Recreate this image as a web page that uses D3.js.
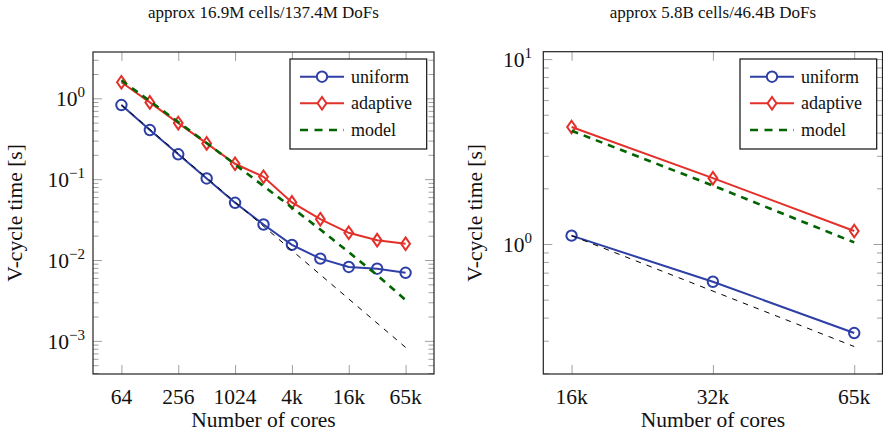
<!DOCTYPE html>
<html>
<head>
<meta charset="utf-8">
<script src="https://cdn.jsdelivr.net/npm/d3@7"></script>
<style>
  body { margin: 0; background: #fff; }
  svg { display: block; }
</style>
</head>
<body>
<svg id="chart" width="883" height="432"></svg>
<script>
// 左图：approx 16.9M cells
var coresLeft = [64, 128, 256, 512, 1024, 2048, 4096, 8192, 16384, 32768, 65536];
var uniformLeft = [0.826, 0.405, 0.203, 0.102, 0.051, 0.0275, 0.0154, 0.0104, 0.0082, 0.0078, 0.00695];
var adaptiveLeft = [1.58, 0.89, 0.494, 0.277, 0.155, 0.107, 0.0516, 0.032, 0.0217, 0.0176, 0.0159];
var modelLeft = [1.67, 0.926, 0.509, 0.280, 0.152, 0.0822, 0.0445, 0.0238, 0.0125, 0.0065, 0.0032];
var idealCoresLeft = [64, 65536];
var idealLeft = [0.826, 0.00083];
var xTicksLeft = [64, 256, 1024, 4096, 16384, 65536];
var xLabelsLeft = ["64", "256", "1024", "4k", "16k", "65k"];
var yExpLeft = [-3, -2, -1, 0];

// 右图：approx 5.8B cells
var coresRight = [16384, 32768, 65536];
var uniformRight = [1.11, 0.625, 0.330];
var adaptiveRight = [4.29, 2.27, 1.175];
var modelRight = [4.10, 2.07, 1.02];
var idealCoresRight = [16384, 65536];
var idealRight = [1.11, 0.279];
var xTicksRight = [16384, 32768, 65536];
var xLabelsRight = ["16k", "32k", "65k"];
var yExpRight = [0, 1];

var legendNames = ["uniform", "adaptive", "model"];

var BLUE = "#2e3fa6", RED = "#e3302a", GREEN = "#006400";
var FONT = "'Liberation Serif', 'DejaVu Serif', 'Times New Roman', serif";

var svg = d3.select("#chart").attr("font-family", FONT);

function minorTicks(lo, hi) {
  var out = [];
  for (var e = Math.floor(Math.log10(lo)); e <= Math.ceil(Math.log10(hi)); e++) {
    for (var m = 2; m <= 9; m++) {
      var v = m * Math.pow(10, e);
      if (v >= lo && v <= hi) out.push(v);
    }
  }
  return out;
}

function txt(sel, size) {
  return sel.attr("font-family", FONT).attr("font-size", size).attr("fill", "#111");
}

function drawPanel(cfg) {
  var g = svg.append("g");
  var x = d3.scaleLog().base(2).domain(cfg.xDomain).range([cfg.left, cfg.right]);
  var y = d3.scaleLog().domain(cfg.yDomain).range([cfg.bottom, cfg.top]);
  var majors = cfg.yExp.map(function (e) { return Math.pow(10, e); });
  var minors = minorTicks(cfg.yDomain[0], cfg.yDomain[1]);

  //刻度（四边朝内）
  function styleTicks(sel) {
    sel.select(".domain").remove();
    sel.selectAll(".tick line").attr("stroke", "#a0a0a0").attr("stroke-width", 1);
    sel.selectAll(".tick text").remove();
  }
  g.append("g").attr("transform", "translate(" + cfg.left + ",0)")
    .call(d3.axisLeft(y).tickValues(minors).tickSize(-5.5).tickFormat("")).call(styleTicks);
  g.append("g").attr("transform", "translate(" + cfg.right + ",0)")
    .call(d3.axisRight(y).tickValues(minors).tickSize(-5.5).tickFormat("")).call(styleTicks);
  g.append("g").attr("transform", "translate(" + cfg.left + ",0)")
    .call(d3.axisLeft(y).tickValues(majors).tickSize(-9).tickFormat("")).call(styleTicks);
  g.append("g").attr("transform", "translate(" + cfg.right + ",0)")
    .call(d3.axisRight(y).tickValues(majors).tickSize(-9).tickFormat("")).call(styleTicks);
  g.append("g").attr("transform", "translate(0," + cfg.bottom + ")")
    .call(d3.axisBottom(x).tickValues(cfg.xTicks).tickSize(-9).tickFormat("")).call(styleTicks);
  g.append("g").attr("transform", "translate(0," + cfg.top + ")")
    .call(d3.axisTop(x).tickValues(cfg.xTicks).tickSize(-9).tickFormat("")).call(styleTicks);

  //边框
  g.append("rect")
    .attr("x", cfg.left).attr("y", cfg.top)
    .attr("width", cfg.right - cfg.left).attr("height", cfg.bottom - cfg.top)
    .attr("fill", "none").attr("stroke", "#222").attr("stroke-width", 1.2);

  //x 标签
  g.selectAll(".xl").data(cfg.xTicks).enter().append("text")
    .attr("x", function (d) { return x(d); })
    .attr("y", cfg.bottom + 30)
    .attr("text-anchor", "middle")
    .call(txt, 21.5)
    .text(function (d, i) { return cfg.xLabels[i]; });

  //y 标签 10^n
  var yl = g.selectAll(".yl").data(cfg.yExp).enter().append("text")
    .attr("x", cfg.labelRight)
    .attr("y", function (d) { return y(Math.pow(10, d)) + 8; })
    .attr("text-anchor", "end")
    .call(txt, 21.5);
  yl.append("tspan").text("10");
  yl.append("tspan").attr("dy", -9).attr("font-size", 15)
    .text(function (d) { return d < 0 ? "\u2212" + (-d) : String(d); });

  //标题与轴名
  var cx = (cfg.left + cfg.right) / 2;
  g.append("text").attr("x", cx).attr("y", 18).attr("text-anchor", "middle")
    .call(txt, 17).text(cfg.title);
  g.append("text").attr("x", cx).attr("y", 426.5).attr("text-anchor", "middle")
    .call(txt, 21.5).text("Number of cores");
  g.append("text")
    .attr("transform", "translate(" + cfg.yTitleX + "," + ((cfg.top + cfg.bottom) / 2) + ") rotate(-90)")
    .attr("text-anchor", "middle")
    .call(txt, 21.5).text("V-cycle time [s]");

  //线条
  var line = d3.line()
    .x(function (d) { return x(d[0]); })
    .y(function (d) { return y(d[1]); });
  function zip(a, b) { return a.map(function (v, i) { return [v, b[i]]; }); }

  var clip = "clip-" + cfg.id;
  svg.append("clipPath").attr("id", clip).append("rect")
    .attr("x", cfg.left).attr("y", cfg.top)
    .attr("width", cfg.right - cfg.left).attr("height", cfg.bottom - cfg.top);
  var plot = g.append("g").attr("clip-path", "url(#" + clip + ")");

  var uni = zip(cfg.cores, cfg.uniform);
  plot.append("path").datum(uni).attr("d", line)
    .attr("fill", "none").attr("stroke", BLUE).attr("stroke-width", 2);
  plot.selectAll(".cm").data(uni).enter().append("circle")
    .attr("cx", function (d) { return x(d[0]); })
    .attr("cy", function (d) { return y(d[1]); })
    .attr("r", 5.2).attr("fill", "none").attr("stroke", BLUE).attr("stroke-width", 2);

  var ada = zip(cfg.cores, cfg.adaptive);
  plot.append("path").datum(ada).attr("d", line)
    .attr("fill", "none").attr("stroke", RED).attr("stroke-width", 2);
  plot.selectAll(".dm").data(ada).enter().append("path")
    .attr("transform", function (d) { return "translate(" + x(d[0]) + "," + y(d[1]) + ")"; })
    .attr("d", "M0,-6.3L4.4,0L0,6.3L-4.4,0Z")
    .attr("fill", "none").attr("stroke", RED).attr("stroke-width", 2);

  plot.append("path").datum(zip(cfg.cores, cfg.model)).attr("d", line)
    .attr("fill", "none").attr("stroke", GREEN).attr("stroke-width", 2.6)
    .attr("stroke-dasharray", "7,6");

  plot.append("path").datum(zip(cfg.idealCores, cfg.ideal)).attr("d", line)
    .attr("fill", "none").attr("stroke", "#000").attr("stroke-width", 1)
    .attr("stroke-dasharray", "5.5,6");

  //图例
  var lx = cfg.legendX, ly = 59;
  var lg = g.append("g");
  lg.append("rect").attr("x", lx).attr("y", ly).attr("width", 136.7).attr("height", 90)
    .attr("fill", "#fff").attr("stroke", "#111").attr("stroke-width", 1.2);
  var rows = [ly + 17.7, ly + 44.3, ly + 71];
  legendNames.forEach(function (name, i) {
    var ry = rows[i];
    if (i < 2) {
      var col = i === 0 ? BLUE : RED;
      lg.append("line").attr("x1", lx + 10).attr("x2", lx + 54).attr("y1", ry).attr("y2", ry)
        .attr("stroke", col).attr("stroke-width", 2);
      if (i === 0) {
        lg.append("circle").attr("cx", lx + 32).attr("cy", ry).attr("r", 5.2)
          .attr("fill", "#fff").attr("stroke", col).attr("stroke-width", 2);
      } else {
        lg.append("path").attr("transform", "translate(" + (lx + 32) + "," + ry + ")")
          .attr("d", "M0,-6.3L4.4,0L0,6.3L-4.4,0Z")
          .attr("fill", "#fff").attr("stroke", col).attr("stroke-width", 2);
      }
    } else {
      lg.append("line").attr("x1", lx + 10).attr("x2", lx + 54).attr("y1", ry).attr("y2", ry)
        .attr("stroke", GREEN).attr("stroke-width", 2.6).attr("stroke-dasharray", "8,6.5");
    }
    lg.append("text").attr("x", lx + 61).attr("y", ry + 6)
      .call(txt, 18).text(name);
  });
}

drawPanel({
  id: "l", left: 93, right: 434, top: 52, bottom: 374,
  xDomain: [32, 131072], yDomain: [Math.pow(10, -3.41), Math.pow(10, 0.573)],
  xTicks: xTicksLeft, xLabels: xLabelsLeft, yExp: yExpLeft,
  labelRight: 85, yTitleX: 22, legendX: 290,
  title: "approx 16.9M cells/137.4M DoFs",
  cores: coresLeft, uniform: uniformLeft, adaptive: adaptiveLeft, model: modelLeft,
  idealCores: idealCoresLeft, ideal: idealLeft
});

drawPanel({
  id: "r", left: 543.3, right: 882.5, top: 51.7, bottom: 374,
  xDomain: [Math.pow(2, 13.8), Math.pow(2, 16.2)], yDomain: [Math.pow(10, -0.703), Math.pow(10, 1.04)],
  xTicks: xTicksRight, xLabels: xLabelsRight, yExp: yExpRight,
  labelRight: 532, yTitleX: 482, legendX: 740,
  title: "approx 5.8B cells/46.4B DoFs",
  cores: coresRight, uniform: uniformRight, adaptive: adaptiveRight, model: modelRight,
  idealCores: idealCoresRight, ideal: idealRight
});
</script>
</body>
</html>
